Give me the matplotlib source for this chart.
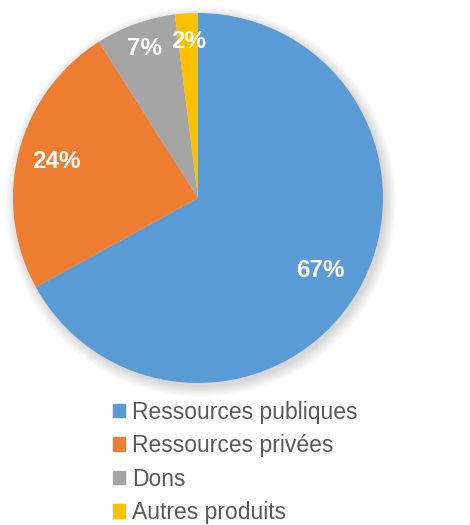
import numpy as np
import matplotlib.pyplot as plt
from matplotlib.patches import Circle

# data
labels = ['Ressources publiques', 'Ressources privées', 'Dons', 'Autres produits']
values = [67, 24, 7, 2]
colors = ['#5b9bd5', '#ed7d31', '#a5a5a5', '#ffc000']
label_r = [0.77, 0.79, 0.86, 0.85]

plt.rcParams['font.family'] = ['Liberation Sans', 'DejaVu Sans']

fig = plt.figure(figsize=(4.7, 5.25), dpi=100)
ax = fig.add_axes([13/470, 1 - 383/525, 370/470, 370/525])

# soft shadow around the pie
for i in range(8):
    ax.add_patch(Circle((0.015, -0.02), 1.0 + 0.008 * i, color='black',
                        alpha=0.018, lw=0, zorder=0, clip_on=False))

wedges, _ = ax.pie(values, colors=colors, startangle=90, counterclock=False,
                   radius=1.0, wedgeprops=dict(linewidth=0))
for w in wedges:
    w.set_zorder(2)

ax.set_xlim(-1, 1)
ax.set_ylim(-1, 1)
ax.set_aspect('equal')
ax.axis('off')

for w, v, r in zip(wedges, values, label_r):
    ang = np.deg2rad((w.theta1 + w.theta2) / 2)
    ax.text(r * np.cos(ang), r * np.sin(ang), f'{v}%', ha='center', va='center',
            color='white', fontsize=17.5, fontweight='bold', zorder=3)

handles = [plt.Rectangle((0, 0), 1, 1, color=c) for c in colors]
fig.legend(handles, labels, loc='upper left', bbox_to_anchor=(108/470, 1 - 396/525),
           frameon=False, fontsize=16.5, handlelength=0.55, handleheight=0.55,
           handletextpad=0.3, labelspacing=0.46, labelcolor='#595959',
           borderaxespad=0, borderpad=0.2)

fig.savefig('out.png', dpi=100, facecolor='white')
